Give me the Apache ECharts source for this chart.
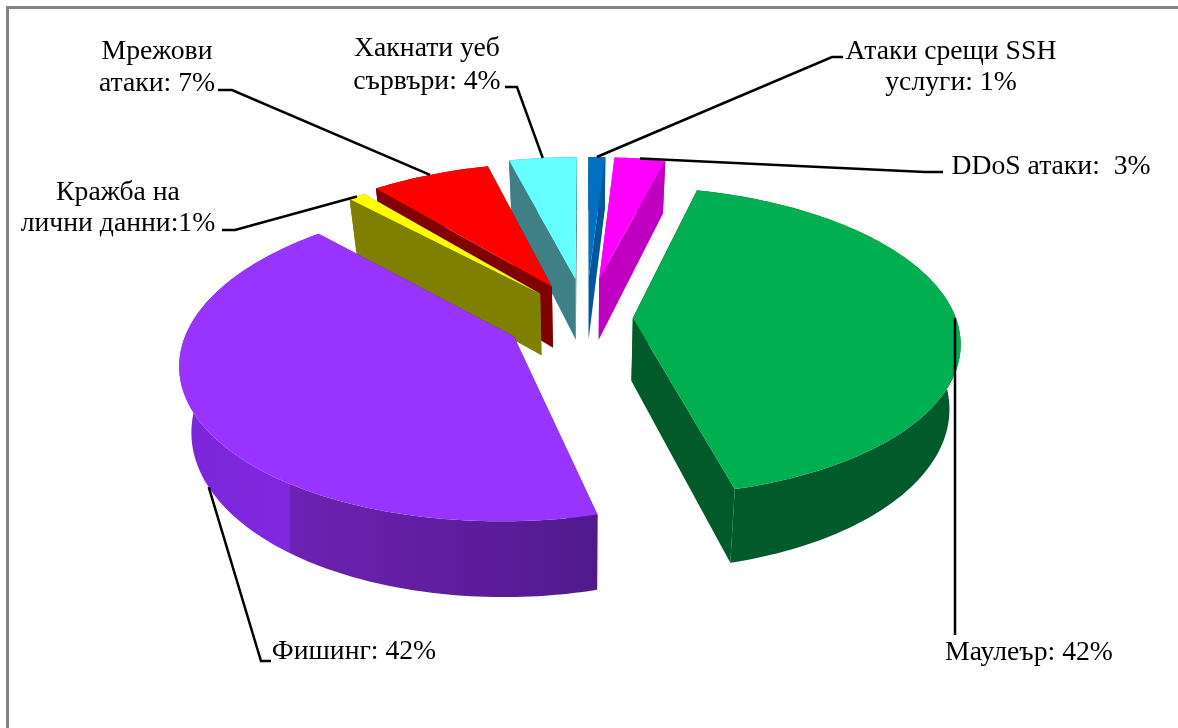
<!DOCTYPE html>
<html>
<head>
<meta charset="utf-8">
<title>Атаки</title>
<style>
  html, body { margin: 0; padding: 0; background: #fff; }
  #chart { width: 1178px; height: 728px; }
</style>
<script src="https://cdn.jsdelivr.net/npm/echarts@6/dist/echarts.min.js"></script>
</head>
<body>
<div id="chart"></div>
<script>
// clockwise from 12 o'clock
const sliceNames = ['Атаки срещи SSH услуги', 'DDoS атаки', 'Маулеър', 'Фишинг', 'Кражба на лични данни', 'Мрежови атаки', 'Хакнати уеб сървъри']
const sliceValues = [1, 3, 42, 42, 1, 7, 4]
const labelLines = [
  ['Атаки срещи SSH', 'услуги: 1%'],
  ['DDoS атаки:  3%'],
  ['Маулеър: 42%'],
  ['Фишинг: 42%'],
  ['Кражба на', 'лични данни:1%'],
  ['Мрежови', 'атаки: 7%'],
  ['Хакнати уеб', 'сървъри: 4%']
]

const topColors = ['#0070c0', '#ff00ff', '#00b050', '#9933ff', '#ffff00', '#ff0000', '#66ffff']
const wallColors = ['#00589a', '#c000c0', '#005a29', '#4a12a0', '#808000', '#800000', '#3f7f86']
const sliceExplode = [0.27, 0.27, 0.145, 0.25, 0.22, 0.24, 0.27]

// the 3d look: ground plane seen in perspective
const CX = 586
const CY = 318
const RADIUS = 323
const DEPTH = 151
const PERSPECTIVE = 0.15
const THICKNESS = 63
const BASE_SHRINK = 0.97 // base of the pie is further from the camera than its top

// where each label sits, and the elbow of its leader line
const labelLayout = [
  { x: 951, y: 52, lineGap: 31, elbow: [[843, 57], [832, 57]] },
  { x: 1051, y: 167, lineGap: 0, elbow: [[943, 172], [925, 172]] },
  { x: 1029, y: 653, lineGap: 0, elbow: [[955, 635]], vertical: true },
  { x: 354, y: 652, lineGap: 0, elbow: [[271, 661], [261, 661]], onBase: true },
  { x: 118, y: 193, lineGap: 31, elbow: [[222, 230], [235, 230]] },
  { x: 157, y: 52, lineGap: 32, elbow: [[218, 90], [232, 90]] },
  { x: 427, y: 49, lineGap: 33, elbow: [[505, 87], [517, 87]] }
]

const total = sliceValues.reduce((a, b) => a + b, 0)
const startAngles = []
let acc = 0
sliceValues.forEach((v) => {
  startAngles.push((acc / total) * Math.PI * 2)
  acc += v
})

function project(gx, gz, lifted) {
  const s = 1 / (1 - PERSPECTIVE * gz)
  if (lifted) return [CX + RADIUS * gx * s, CY + DEPTH * gz * s]
  return [CX + RADIUS * gx * s * BASE_SHRINK, CY + DEPTH * gz * s + THICKNESS * s]
}

function sliceGeometry(i) {
  const a0 = startAngles[i]
  const a1 = a0 + (sliceValues[i] / total) * Math.PI * 2
  const mid = (a0 + a1) / 2
  const ox = sliceExplode[i] * Math.sin(mid)
  const oz = -sliceExplode[i] * Math.cos(mid)
  const rim = []
  const steps = Math.max(2, Math.ceil((a1 - a0) / 0.02))
  for (let k = 0; k <= steps; k++) {
    const a = a0 + ((a1 - a0) * k) / steps
    rim.push([ox + Math.sin(a), oz - Math.cos(a)])
  }
  return { mid, ox, oz, rim }
}

function wallFill(i) {
  if (sliceNames[i] !== 'Фишинг') return wallColors[i]
  return new echarts.graphic.LinearGradient(0, 0, 1, 0, [
    { offset: 0, color: '#7a26d8' },
    { offset: 0.265, color: '#8028e0' },
    { offset: 0.266, color: '#6c22b2' },
    { offset: 0.75, color: '#5c1c9a' },
    { offset: 1, color: '#501a8c' }
  ])
}

function renderSlice(params, api) {
  const i = api.value(0)
  const g = sliceGeometry(i)
  const topRim = g.rim.map((p) => project(p[0], p[1], true))
  const baseRim = g.rim.map((p) => project(p[0], p[1], false))
  const apexTop = project(g.ox, g.oz, true)
  const apexBase = project(g.ox, g.oz, false)
  const last = topRim.length - 1
  const poly = (points, fill) => ({
    type: 'polygon',
    shape: { points },
    style: { fill, stroke: null }
  })
  return {
    type: 'group',
    children: [
      poly([apexTop, topRim[0], baseRim[0], apexBase], wallColors[i]),
      poly([apexTop, topRim[last], baseRim[last], apexBase], wallColors[i]),
      poly(topRim.concat(baseRim.slice().reverse()), wallFill(i)),
      poly([apexTop].concat(topRim), topColors[i])
    ]
  }
}

function renderLabel(params, api) {
  const i = api.value(0)
  const g = sliceGeometry(i)
  const l = labelLayout[i]
  const rx = g.ox + Math.sin(g.mid)
  const rz = g.oz - Math.cos(g.mid)
  const anchor = project(rx, rz, !l.onBase)
  if (l.vertical) anchor[0] = l.elbow[0][0]
  const children = [{
    type: 'polyline',
    shape: { points: l.elbow.concat([anchor]) },
    style: { stroke: '#000', lineWidth: 2.5, fill: null }
  }]
  labelLines[i].forEach((text, n) => {
    children.push({
      type: 'text',
      style: {
        text,
        x: l.x,
        y: l.y + n * l.lineGap,
        textAlign: 'center',
        textVerticalAlign: 'middle',
        fontFamily: '"Liberation Serif"',
        fontSize: 27.7,
        fill: '#000'
      }
    })
  })
  return { type: 'group', children }
}

// back slices first
const drawOrder = sliceValues
  .map((v, i) => i)
  .sort((a, b) => -Math.cos(sliceGeometry(a).mid) + Math.cos(sliceGeometry(b).mid))

const chart = echarts.init(document.getElementById('chart'))
chart.setOption({
  animation: false,
  backgroundColor: '#fff',
  graphic: [{
    type: 'polyline',
    shape: { points: [[7.5, 728], [7.5, 7.5], [1178, 7.5]] },
    style: { stroke: '#858585', lineWidth: 3, fill: null }
  }],
  series: [
    {
      type: 'custom',
      coordinateSystem: 'none',
      renderItem: renderSlice,
      encode: { value: 1 },
      data: drawOrder.map((i) => ({ name: sliceNames[i], value: [i, sliceValues[i]] })),
      z: 2
    },
    {
      type: 'custom',
      coordinateSystem: 'none',
      renderItem: renderLabel,
      data: sliceValues.map((v, i) => ({ name: sliceNames[i], value: [i, v] })),
      z: 3
    }
  ]
})
</script>
</body>
</html>
